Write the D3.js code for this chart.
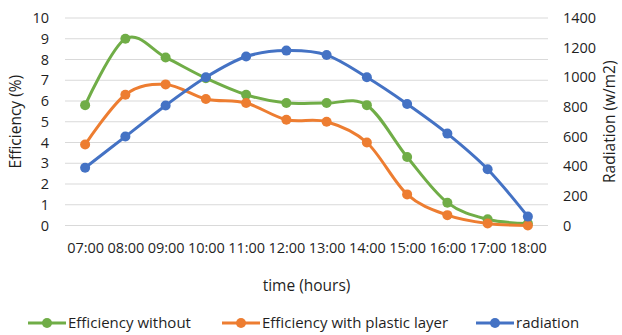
<html>
<style>
body { margin: 0; background: #fff; }
text { font-family: "Open Sans", sans-serif; fill: #1f1f1f; }
</style>
<svg width="622" height="335"></svg>
<script src="https://d3js.org/d3.v7.min.js"></script>
<script>

var hours = ["07:00", "08:00", "09:00", "10:00", "11:00", "12:00",
             "13:00", "14:00", "15:00", "16:00", "17:00", "18:00"];
var effWithout = [5.8, 9.0, 8.1, 7.1, 6.3, 5.9, 5.9, 5.8, 3.3, 1.1, 0.3, 0.1];
var effPlastic = [3.9, 6.3, 6.8, 6.1, 5.9, 5.1, 5.0, 4.0, 1.5, 0.5, 0.1, 0.0];
var radiation = [390, 600, 810, 1000, 1140, 1180, 1150, 1000, 820, 620, 380, 60];
var leftTicks = [0, 1, 2, 3, 4, 5, 6, 7, 8, 9, 10];
var rightTicks = [0, 200, 400, 600, 800, 1000, 1200, 1400];

var svg = d3.select("svg"),
    margin = {top: 18, right: 74, bottom: 110, left: 65},
    width = +svg.attr("width") - margin.left - margin.right,
    height = 225.5 - margin.top,
    g = svg.append("g").attr("transform", "translate(" + margin.left + "," + margin.top + ")");

var x = d3.scalePoint().domain(hours).range([0, width]).padding(0.5);
var yL = d3.scaleLinear().domain([0, 10]).range([height, 0]);
var yR = d3.scaleLinear().domain([0, 1400]).range([height, 0]);

// gridlines
g.append("g")
  .selectAll("line")
  .data(leftTicks)
  .enter().append("line")
    .attr("x1", 0).attr("x2", width)
    .attr("y1", yL).attr("y2", yL)
    .attr("stroke", "#d9d9d9")
    .attr("stroke-width", 1);

var axL = g.append("g")
    .call(d3.axisLeft(yL).tickValues(leftTicks).tickSize(0).tickPadding(16));
var axR = g.append("g")
    .attr("transform", "translate(" + width + ",0)")
    .call(d3.axisRight(yR).tickValues(rightTicks).tickFormat(d3.format("d")).tickSize(0).tickPadding(15));
var axB = g.append("g")
    .attr("transform", "translate(0," + height + ")")
    .call(d3.axisBottom(x).tickSize(0).tickPadding(17));

[axL, axR, axB].forEach(function(a) {
  a.select(".domain").remove();
  a.selectAll("text").attr("font-family", "Open Sans").attr("font-size", 14.5).attr("fill", "#1f1f1f");
});

svg.append("text")
    .attr("transform", "translate(21," + (margin.top + height / 2) + ") rotate(-90)")
    .attr("text-anchor", "middle")
    .attr("font-size", 15.5)
    .text("Efficiency (%)");

svg.append("text")
    .attr("transform", "translate(615," + (margin.top + height / 2) + ") rotate(-90)")
    .attr("text-anchor", "middle")
    .attr("font-size", 15.5)
    .text("Radiation (w/m2)");

svg.append("text")
    .attr("x", margin.left + width / 2)
    .attr("y", 291)
    .attr("text-anchor", "middle")
    .attr("font-size", 15.5)
    .text("time (hours)");

var series = [
  {name: "Efficiency without", values: effWithout, y: yL, color: "#70ad47"},
  {name: "Efficiency with plastic layer", values: effPlastic, y: yL, color: "#ed7d31"},
  {name: "radiation", values: radiation, y: yR, color: "#4472c4"}
];

var line = function(s) {
  return d3.line()
    .x(function(d, i) { return x(hours[i]); })
    .y(function(d) { return s.y(d); })
    .curve(d3.curveCardinal.tension(0))(s.values);
};

series.forEach(function(s) {
  var sg = g.append("g");
  sg.append("path")
    .attr("d", line(s))
    .attr("fill", "none")
    .attr("stroke", s.color)
    .attr("stroke-width", 3)
    .attr("stroke-linejoin", "round");
  sg.selectAll("circle")
    .data(s.values)
    .enter().append("circle")
      .attr("cx", function(d, i) { return x(hours[i]); })
      .attr("cy", function(d) { return s.y(d); })
      .attr("r", 5)
      .attr("fill", s.color);
});

// legend
var legendX = [28, 222, 476];
var lg = svg.append("g").attr("transform", "translate(0,323)");
series.forEach(function(s, i) {
  var it = lg.append("g").attr("transform", "translate(" + legendX[i] + ",0)");
  it.append("line")
    .attr("x1", 0).attr("x2", 38)
    .attr("stroke", s.color).attr("stroke-width", 3);
  it.append("circle").attr("cx", 19).attr("r", 5).attr("fill", s.color);
  it.append("text")
    .attr("x", 40)
    .attr("dy", "0.35em")
    .attr("font-size", 15)
    .text(s.name);
});

</script>
</html>
